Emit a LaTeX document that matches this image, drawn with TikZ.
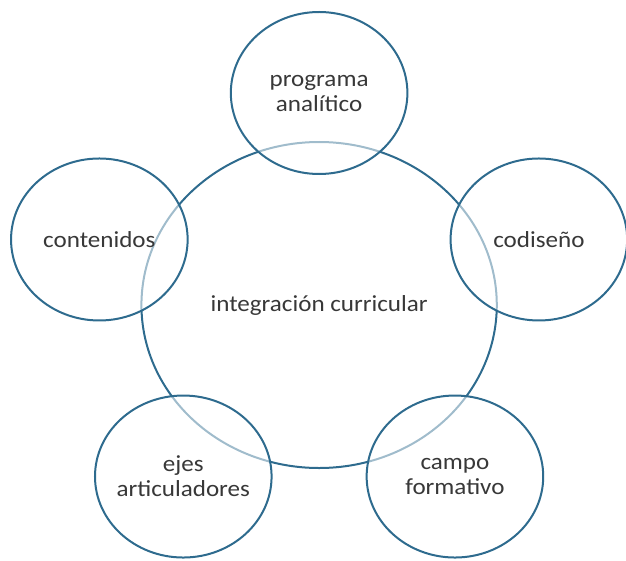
\documentclass[tikz,border=0pt]{standalone}
\usepackage{fontspec}
\setmainfont{Carlito}
\usetikzlibrary{calc}
\definecolor{ringblue}{HTML}{2E6B8E}
\definecolor{txtgray}{HTML}{383838}
\begin{document}
\begin{tikzpicture}[x=1pt,y=1pt,xscale=1.09,transform shape,
  ring/.style={circle,draw=ringblue,line width=2pt,inner sep=0pt,
    minimum size=#1,text=txtgray,align=center,
    font=\fontsize{23}{25}\selectfont},
  sat/.style={ring=162pt,fill=white,fill opacity=0.55,text opacity=1}]
\useasboundingbox (0,0) rectangle (574.3,560);
\coordinate (c) at (292.7,255);
\node[ring=326pt] (center) at (c) {integración curricular};
\node[sat] (prog) at ($(c)+(90:212)$) {programa\\analítico};
\node[sat] (codi) at ($(c)+(18:212)$) {codiseño};
\node[sat] (cont) at ($(c)+(162:212)$) {contenidos};
\node[sat] (ejes) at ($(c)+(234:212)$) {ejes\\articuladores};
\node[sat] (campo) at ($(c)+(306:212)$) {campo\\formativo};
\end{tikzpicture}
\end{document}
